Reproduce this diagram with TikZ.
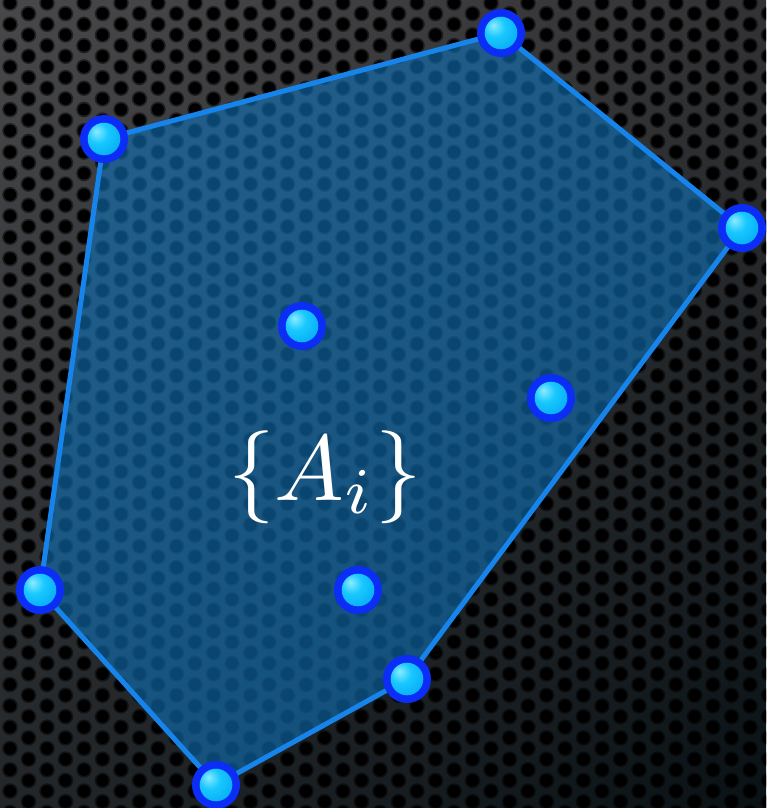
\documentclass[tikz,border=0pt]{standalone}
\usetikzlibrary{calc,shadings}
\definecolor{bgUL}{RGB}{72,72,74}
\definecolor{bgUR}{RGB}{50,50,52}
\definecolor{bgLL}{RGB}{34,38,41}
\definecolor{bgLR}{RGB}{10,18,22}
\definecolor{polyfill}{RGB}{15,115,185}
\definecolor{polyedge}{RGB}{22,132,235}
\definecolor{dotring}{RGB}{12,45,245}
\definecolor{dotHL}{RGB}{140,235,255}
\definecolor{dotMid}{RGB}{25,200,255}
\definecolor{dotEdge}{RGB}{0,165,240}
\pgfdeclareradialshading{dotball}{\pgfpoint{-12bp}{12bp}}{color(0bp)=(dotHL); color(16bp)=(dotMid); color(42bp)=(dotEdge); color(80bp)=(dotEdge)}
\tikzset{
  hole/.style={fill=black},
  polyshape/.style={fill=polyfill, fill opacity=0.6},
  polyline/.style={draw=polyedge, line width=5pt, line join=round},
  ring/.style={fill=dotring},
  ball/.style={shading=dotball},
}
\newcommand{\mydot}[1]{%
  \fill[ring] (#1) circle (24);
  \shade[ball] (#1) circle (16.3);
}
\begin{document}
\begin{tikzpicture}[x=1pt,y=-1pt]
\useasboundingbox (0,0) rectangle (766,808);
\clip (0,0) rectangle (766,808);
\shade[upper left=bgUL, upper right=bgUR, lower left=bgLL, lower right=bgLR] (0,0) rectangle (766,808);
\foreach \j in {-1,...,42}{
  \pgfmathsetmacro{\xx}{10+18.5*\j}
  \pgfmathsetmacro{\off}{mod(\j+2,2)*10.65}
  \foreach \i in {-1,...,39}{
    \fill[black, opacity=0.5] (\xx, {3+21.3*\i+\off}) circle (7.8);
    \fill[hole] (\xx, {3+21.3*\i+\off}) circle (6.1);
  }
}
\coordinate (p1) at (104,139);
\coordinate (p2) at (501,33);
\coordinate (p3) at (742,228);
\coordinate (p4) at (407,679);
\coordinate (p5) at (216,785);
\coordinate (p6) at (40,590);
\coordinate (q1) at (302,326);
\coordinate (q2) at (551,398);
\coordinate (q3) at (358,590);
\fill[polyshape] (p1) -- (p2) -- (p3) -- (p4) -- (p5) -- (p6) -- cycle;
\draw[polyline] (p1) -- (p2) -- (p3) -- (p4) -- (p5) -- (p6) -- cycle;
\node[text=white, scale=9.3, anchor=base] (lab) at (325,500) {$\{A_i\}$};
\foreach \p in {p1,p2,p3,p4,p5,p6,q1,q2,q3}{\mydot{\p}}
\end{tikzpicture}
\end{document}
